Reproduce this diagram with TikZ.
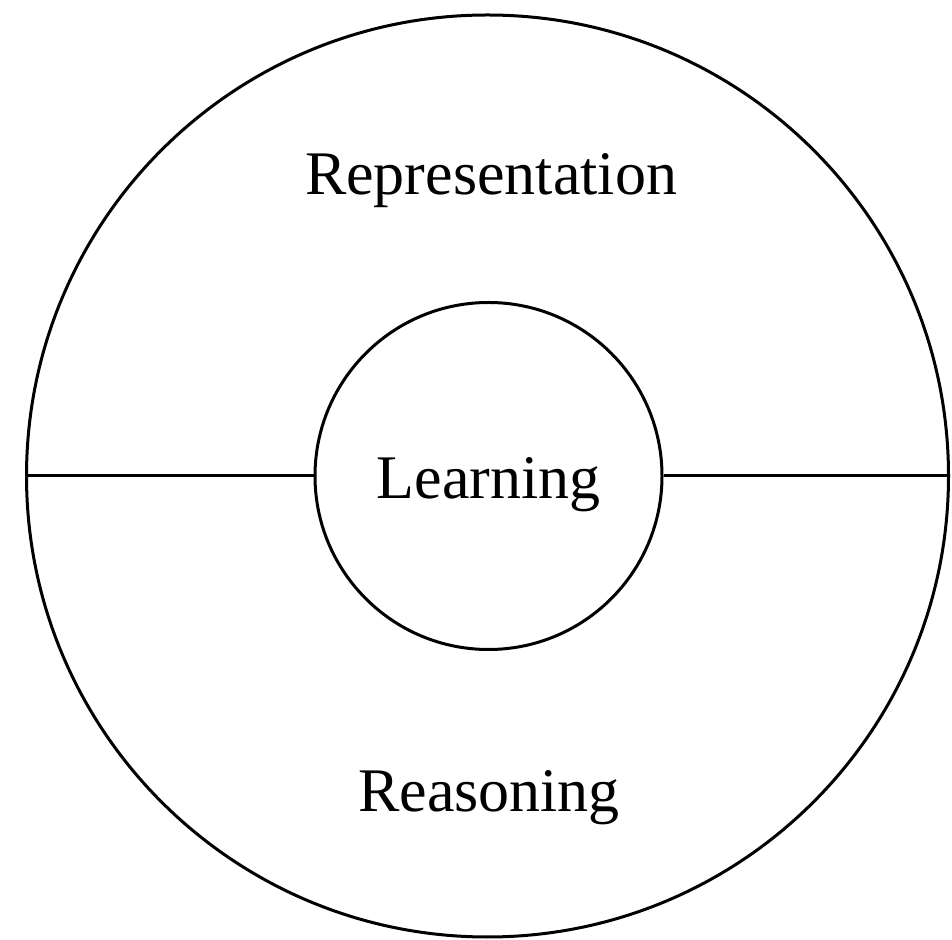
\documentclass[tikz,border=0pt]{standalone}
\usepackage{fontspec}
\setmainfont{Liberation Serif}
\begin{document}
\begin{tikzpicture}[x=1pt,y=1pt,
  ring/.style={draw=black,line width=3pt,circle,inner sep=0pt},
  lbl/.style={font=\fontsize{62}{70}\selectfont,anchor=base,inner sep=0pt},
  divider/.style={draw=black,line width=3pt}]
\useasboundingbox (0,0) rectangle (952,939);
\node[ring,minimum size=922pt] (outer) at (487.5,463) {};
\node[ring,minimum size=347pt] (inner) at (488.5,463) {};
\draw[divider] (outer.west) -- (inner.west);
\draw[divider] (inner.east) -- (outer.east);
\node[lbl] (rep) at (491,744) {Representation};
\node[lbl] (learn) at (488.5,440) {Learning};
\node[lbl] (reas) at (489,127) {Reasoning};
\end{tikzpicture}
\end{document}
